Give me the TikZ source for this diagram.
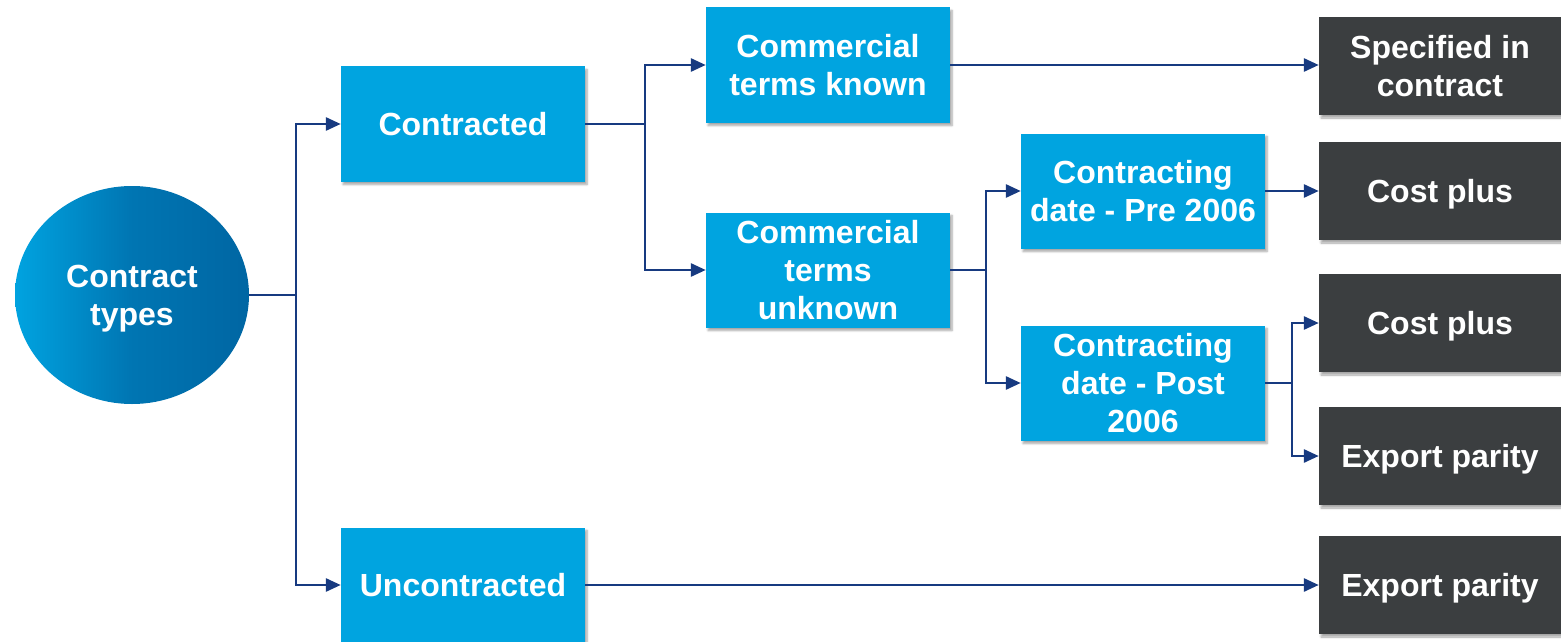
\documentclass[tikz,border=0pt]{standalone}
\usepackage{fontspec}
\setmainfont{Liberation Sans}
\usetikzlibrary{arrows.meta,shadows.blur,shapes.geometric}
\definecolor{boxblue}{HTML}{00A4E0}
\definecolor{boxdark}{HTML}{3B3E40}
\definecolor{linenavy}{HTML}{173A80}
\definecolor{circL}{HTML}{00A3E0}
\definecolor{circR}{HTML}{0066A3}
\tikzset{
  lbl/.style={text=white, font=\fontsize{32}{38}\selectfont\bfseries, align=center, inner sep=0pt},
  bluebox/.style={lbl, fill=boxblue, minimum width=244pt, minimum height=115pt,
    blur shadow={shadow xshift=2pt, shadow yshift=-3pt, shadow blur steps=6, shadow opacity=35}},
  darkbox/.style={lbl, text depth=0pt, fill=boxdark, minimum width=242pt, minimum height=98pt,
    blur shadow={shadow xshift=2pt, shadow yshift=-3pt, shadow blur steps=6, shadow opacity=35}},
  conn/.style={draw=linenavy, line width=2.8pt},
  arr/.style={conn, -{Triangle[length=15pt, width=13pt]}},
}
\begin{document}
\begin{tikzpicture}[x=1pt, y=-1pt]
\useasboundingbox (0,0) rectangle (1561,642);
% root
\node[lbl, text depth=0pt, ellipse, minimum width=234pt, minimum height=218pt,
  left color=circL, right color=circR, middle color=circR!75!circL] (root) at (132,295) {Contract\\types};
% level 1
\node[bluebox] (contracted) at (463,124) {Contracted};
\node[bluebox] (uncontracted) at (463,585) {Uncontracted};
% level 2
\node[bluebox] (known) at (828,65) {Commercial\\terms known};
\node[bluebox] (unknown) at (828,270) {Commercial\\terms\\unknown};
% level 3
\node[bluebox] (pre) at (1143,191) {Contracting\\date - Pre 2006};
\node[bluebox] (post) at (1143,383) {Contracting\\date - Post\\2006};
% outcomes
\node[darkbox] (spec) at (1440,66) {Specified in\\contract};
\node[darkbox] (cost1) at (1440,191) {Cost plus};
\node[darkbox] (cost2) at (1440,323) {Cost plus};
\node[darkbox] (exp1) at (1440,456) {Export parity};
\node[darkbox] (exp2) at (1440,585) {Export parity};
% junction coordinates
\coordinate (j1) at (296,295);
\coordinate (j2) at (645,124);
\coordinate (j3) at (986,270);
\coordinate (j4) at (1292,383);
% connectors
\draw[conn] (root.east) -- (j1);
\draw[arr] (j1) |- (contracted.west);
\draw[arr] (j1) |- (uncontracted.west);
\draw[conn] (contracted.east) -- (j2);
\draw[arr] (j2) |- (known.west);
\draw[arr] (j2) |- (unknown.west);
\draw[arr] (known.east) -- (known.east -| spec.west);
\draw[conn] (unknown.east) -- (j3);
\draw[arr] (j3) |- (pre.west);
\draw[arr] (j3) |- (post.west);
\draw[arr] (pre.east) -- (cost1.west);
\draw[conn] (post.east) -- (j4);
\draw[arr] (j4) |- (cost2.west);
\draw[arr] (j4) |- (exp1.west);
\draw[arr] (uncontracted.east) -- (exp2.west);
\end{tikzpicture}
\end{document}
